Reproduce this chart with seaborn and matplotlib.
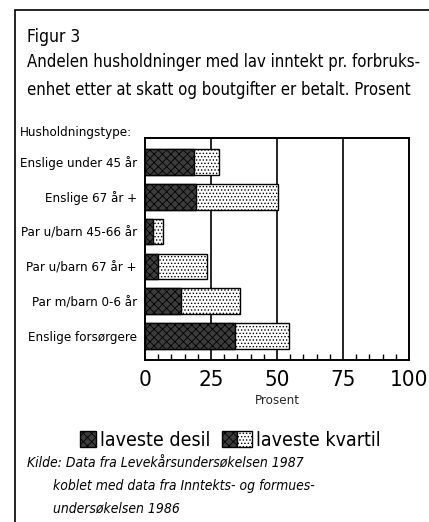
import numpy as np
import pandas as pd
import matplotlib
matplotlib.use('Agg')
import matplotlib.pyplot as plt
import seaborn as sns
from matplotlib.patches import Rectangle, Patch
from matplotlib.legend_handler import HandlerTuple
from matplotlib.ticker import MultipleLocator

categories = ['Enslige under 45 år', 'Enslige 67 år +', 'Par u/barn 45-66 år',
              'Par u/barn 67 år +', 'Par m/barn 0-6 år', 'Enslige forsørgere']
desil = [18.6, 19.2, 2.9, 4.8, 13.6, 34.1]
kvartil = [28.0, 50.2, 7.0, 23.6, 35.9, 54.4]
xticks = [0, 25, 50, 75, 100]

df = pd.DataFrame({'Husholdningstype': categories, 'desil': desil, 'kvartil': kvartil})

sns.set_style('white')
plt.rcParams['font.family'] = ['DejaVu Sans']
plt.rcParams['font.stretch'] = 'condensed'
plt.rcParams['hatch.linewidth'] = 0.6
plt.rcParams['text.color'] = 'black'
plt.rcParams['xtick.color'] = 'black'
plt.rcParams['ytick.color'] = 'black'

dark = '#3c3c3c'

fig = plt.figure(figsize=(4.29, 5.22), dpi=100)
ax = fig.add_axes([145 / 429, 1 - 360 / 522, 264 / 429, 222 / 522])

# kvartil bar in full, desil bar drawn over it
sns.barplot(data=df, x='kvartil', y='Husholdningstype', orient='h', color='white',
            edgecolor='black', linewidth=1.0, width=0.74, ax=ax)
sns.barplot(data=df, x='desil', y='Husholdningstype', orient='h', color=dark,
            edgecolor='black', linewidth=1.0, width=0.74, ax=ax)
n = len(categories)
for i, p in enumerate(ax.patches):
    if i < n:
        p.set_hatch('.....')
    else:
        p.set_hatch('xxxx')

ax.set_xlim(0, 100)
ax.set_ylim(n - 1 + 0.69, -0.69)
ax.set_xticks(xticks)
ax.xaxis.set_minor_locator(MultipleLocator(5))
ax.tick_params(axis='x', which='major', length=0, labelsize=16, pad=7)
ax.tick_params(axis='x', which='minor', direction='in', length=4, width=1, bottom=True)
ax.tick_params(axis='y', length=0, labelsize=9.5, pad=6)
for v in [25, 50, 75]:
    ax.axvline(v, color='black', lw=1.2, zorder=0)
for s in ax.spines.values():
    s.set_visible(True)
    s.set_color('black')
    s.set_linewidth(1.4)
ax.set_ylabel('')
ax.set_xlabel('Prosent', fontsize=9.5, labelpad=3)

fig.patches.append(Rectangle((15 / 429, -0.1), 1.2, 1 - 10 / 522 + 0.1, transform=fig.transFigure,
                             fill=False, edgecolor='black', lw=1.2))

fig.text(27 / 429, 1 - 42 / 522, 'Figur 3', fontsize=12.5)
fig.text(27 / 429, 1 - 67 / 522, 'Andelen husholdninger med lav inntekt pr. forbruks-', fontsize=12)
fig.text(27 / 429, 1 - 95 / 522, 'enhet etter at skatt og boutgifter er betalt. Prosent', fontsize=12)
fig.text(20 / 429, 1 - 136 / 522, 'Husholdningstype:', fontsize=9.5)

h_desil = Patch(facecolor=dark, edgecolor='black', hatch='xxxx')
h_kv = Patch(facecolor='white', edgecolor='black', hatch='.....')
leg1 = fig.legend([h_desil], ['laveste desil'], loc='center left',
                  bbox_to_anchor=(62 / 429, 1 - 440 / 522), frameon=False, fontsize=14,
                  handlelength=0.85, handleheight=0.85, handletextpad=0.2)
leg2 = fig.legend([(h_desil, h_kv)], ['laveste kvartil'], loc='center left',
                  bbox_to_anchor=(204 / 429, 1 - 440 / 522), frameon=False, fontsize=14,
                  handlelength=1.55, handleheight=0.85, handletextpad=0.2,
                  handler_map={tuple: HandlerTuple(ndivide=None, pad=0)})

fig.text(27 / 429, 1 - 468 / 522, 'Kilde: Data fra Levekårsundersøkelsen 1987', fontsize=10, style='italic')
fig.text(53 / 429, 1 - 490 / 522, 'koblet med data fra Inntekts- og formues-', fontsize=10, style='italic')
fig.text(53 / 429, 1 - 513 / 522, 'undersøkelsen 1986', fontsize=10, style='italic')

fig.savefig('out.png', dpi=100)
